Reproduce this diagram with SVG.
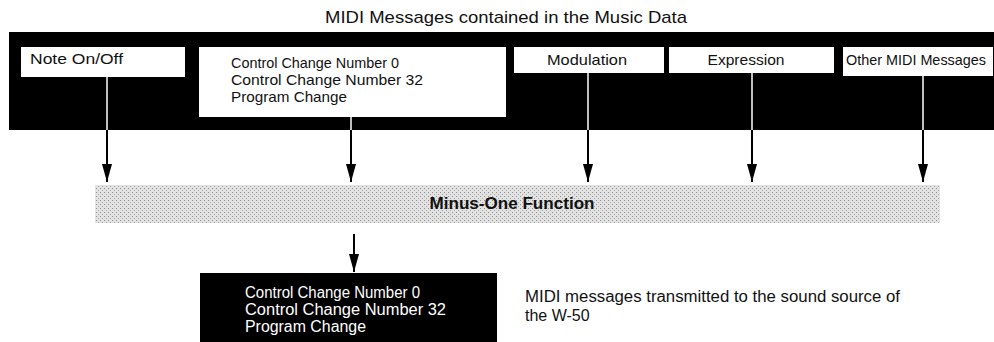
<svg xmlns="http://www.w3.org/2000/svg" width="994" height="342" viewBox="0 0 994 342">
<style>
.t{font-family:"Liberation Sans",Arial,sans-serif;fill:#111}
.b{font-family:"Liberation Sans",Arial,sans-serif;font-size:15px;fill:#111}
.w{font-family:"Liberation Sans",Arial,sans-serif;font-size:16px;fill:#fff}
.box{fill:#fff}
.wl{stroke:#fff;stroke-width:1.5}
.bl{stroke:#000;stroke-width:2}
</style>
<defs>
<pattern id="dots" width="4" height="4" patternUnits="userSpaceOnUse">
<rect width="4" height="4" fill="#e2e2e2"/>
<rect x="0" y="0" width="1" height="1" fill="#8e8e8e"/>
<rect x="2" y="2" width="1" height="1" fill="#a4a4a4"/>
</pattern>
<marker id="ah" markerWidth="18" markerHeight="10" refX="18" refY="5" orient="auto" markerUnits="userSpaceOnUse" viewBox="0 0 18 10">
<path d="M0,0 L18,5 L0,10 Z" fill="#000"/>
</marker>
</defs>
<text class="t" x="506" y="23" font-size="17" text-anchor="middle" textLength="362" lengthAdjust="spacingAndGlyphs">MIDI Messages contained in the Music Data</text>
<g id="band"><rect x="9" y="32" width="985" height="98" fill="#000"/></g>
<g id="note"><rect class="box" x="21" y="47" width="164" height="30"/><text class="b" x="30" y="64" textLength="93" lengthAdjust="spacingAndGlyphs">Note On/Off</text></g>
<g id="cc"><rect class="box" x="199" y="47" width="307" height="70"/>
<text class="b" x="231" y="68" textLength="168" lengthAdjust="spacingAndGlyphs">Control Change Number 0</text>
<text class="b" x="231" y="85" textLength="192" lengthAdjust="spacingAndGlyphs">Control Change Number 32</text>
<text class="b" x="231" y="102" textLength="116" lengthAdjust="spacingAndGlyphs">Program Change</text></g>
<g id="mod"><rect class="box" x="514" y="47" width="150" height="26"/><text class="b" x="587" y="65" text-anchor="middle" textLength="80" lengthAdjust="spacingAndGlyphs">Modulation</text></g>
<g id="expr"><rect class="box" x="669" y="47" width="165" height="26"/><text class="b" x="746" y="65" text-anchor="middle" textLength="77" lengthAdjust="spacingAndGlyphs">Expression</text></g>
<g id="other"><rect class="box" x="843" y="47" width="150" height="29"/><text class="b" x="916" y="65" text-anchor="middle" textLength="140" lengthAdjust="spacingAndGlyphs">Other MIDI Messages</text></g>
<g id="minus"><rect x="95" y="185" width="845" height="38" fill="url(#dots)"/>
<text x="512" y="209" font-family="Liberation Sans,Arial,sans-serif" font-size="16" font-weight="bold" fill="#111" text-anchor="middle" textLength="165" lengthAdjust="spacingAndGlyphs">Minus-One Function</text></g>
<g id="out"><rect x="200" y="273" width="297" height="69" fill="#000"/>
<text class="w" x="245" y="298" textLength="175" lengthAdjust="spacingAndGlyphs">Control Change Number 0</text>
<text class="w" x="245" y="315" textLength="201" lengthAdjust="spacingAndGlyphs">Control Change Number 32</text>
<text class="w" x="245" y="332" textLength="121" lengthAdjust="spacingAndGlyphs">Program Change</text></g>
<g id="note2"><text class="t" font-size="16" x="525" y="302" textLength="375" lengthAdjust="spacingAndGlyphs">MIDI messages transmitted to the sound source of</text>
<text class="t" font-size="16" x="525" y="321">the W-50</text></g>
<g id="connectors">
<line class="wl" x1="107" y1="77" x2="107" y2="130"/>
<line class="wl" x1="351" y1="117" x2="351" y2="130"/>
<line class="wl" x1="588" y1="73" x2="588" y2="130"/>
<line class="wl" x1="752" y1="73" x2="752" y2="130"/>
<line class="wl" x1="923" y1="76" x2="923" y2="130"/>
<line class="bl" x1="107" y1="130" x2="107" y2="182" marker-end="url(#ah)"/>
<line class="bl" x1="351" y1="130" x2="351" y2="182" marker-end="url(#ah)"/>
<line class="bl" x1="588" y1="130" x2="588" y2="182" marker-end="url(#ah)"/>
<line class="bl" x1="752" y1="130" x2="752" y2="182" marker-end="url(#ah)"/>
<line class="bl" x1="923" y1="130" x2="923" y2="182" marker-end="url(#ah)"/>
<line class="bl" x1="354" y1="234" x2="354" y2="272" marker-end="url(#ah)"/>
</g>
</svg>
